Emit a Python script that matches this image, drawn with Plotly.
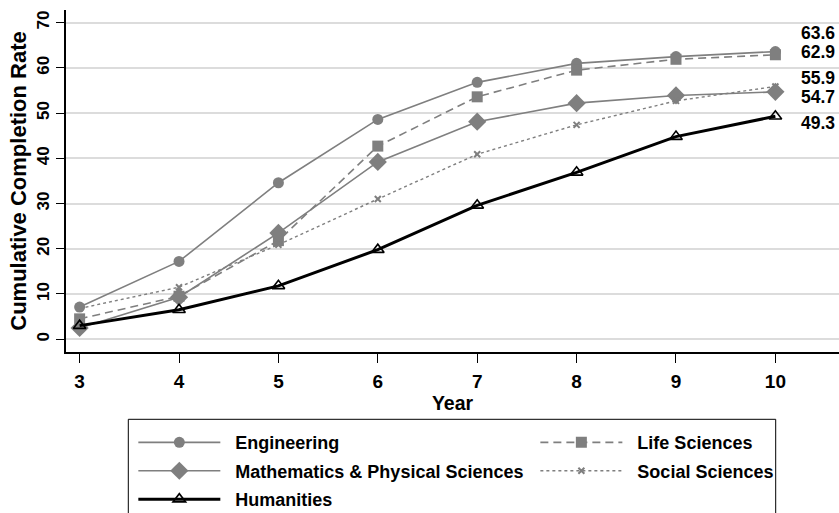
import plotly.graph_objects as go

# Cumulative completion rate (%) by years since entry, by field of study
years = [3, 4, 5, 6, 7, 8, 9, 10]
engineering = [7.1, 17.2, 34.6, 48.6, 56.8, 61.0, 62.5, 63.6]
life_sciences = [4.5, 9.5, 21.8, 42.7, 53.6, 59.5, 61.9, 62.9]
math_phys = [2.5, 9.3, 23.5, 39.2, 48.1, 52.2, 53.9, 54.7]
social_sciences = [6.8, 11.5, 20.9, 31.0, 40.9, 47.4, 52.7, 55.9]
humanities = [3.0, 6.5, 11.8, 19.8, 29.6, 36.9, 44.8, 49.3]

# vertical placement of the end-of-line value labels (spread apart to stay legible)
label_y = [67.7, 63.6, 57.7, 53.6, 47.9]

GRAY = "#7f7f7f"
FONT = "Liberation Sans, Arial, sans-serif"
PAD = "\u00a0\u00a0"

# name, values, line style, marker style, legend column
series = [
    ("Engineering", engineering, dict(color=GRAY, width=1.6, dash="solid"),
     dict(symbol="circle", size=11, color=GRAY), "legend"),
    ("Life Sciences", life_sciences, dict(color=GRAY, width=1.6, dash="8px,5px"),
     dict(symbol="square", size=11, color=GRAY), "legend2"),
    ("Mathematics & Physical Sciences", math_phys, dict(color=GRAY, width=1.6, dash="solid"),
     dict(symbol="diamond", size=14, color=GRAY), "legend"),
    ("Social Sciences", social_sciences, dict(color=GRAY, width=1.4, dash="dot"),
     dict(symbol="x-thin", size=6, color=GRAY, line=dict(color=GRAY, width=2)), "legend2"),
    ("Humanities", humanities, dict(color="black", width=3, dash="solid"),
     dict(symbol="triangle-up-open", size=11, color="black", line=dict(width=1.6)), "legend"),
]

fig = go.Figure()
for name, vals, line, marker, leg in series:
    fig.add_trace(go.Scatter(x=years, y=vals, name=f"<b>{PAD}{name}</b>", mode="lines+markers",
                             line=line, marker=marker, legend=leg, legendgroup=name))

# value labels at the right edge, ordered from highest to lowest end value
ends = sorted([s[1][-1] for s in series], reverse=True)
for v, ly in zip(ends, label_y):
    fig.add_annotation(x=1, xref="paper", xanchor="right", xshift=-2,
                       y=ly, yref="y", yanchor="middle",
                       text=f"<b>{v:.1f}</b>", showarrow=False,
                       font=dict(family=FONT, size=17.5, color="black"))

legend_common = dict(
    orientation="v", yanchor="top", xanchor="left", xref="paper", yref="paper",
    itemwidth=82, borderwidth=0, bgcolor="rgba(0,0,0,0)", tracegroupgap=2,
    font=dict(family=FONT, size=18, color="black"), traceorder="grouped",
)

fig.update_layout(
    width=839, height=513,
    margin=dict(l=66, r=0, t=10, b=161, autoexpand=False),
    paper_bgcolor="white", plot_bgcolor="white",
    font=dict(family=FONT, size=18, color="black"),
    showlegend=True,
    legend=dict(x=0.0871, y=-0.2110, **legend_common),
    legend2=dict(x=0.6072, y=-0.2110, **legend_common),
    # frame around both legend columns
    shapes=[dict(type="rect", xref="paper", yref="paper",
                 x0=0.0806, x1=0.9181, y0=-0.6, y1=-0.1968,
                 line=dict(color="black", width=1), fillcolor="rgba(0,0,0,0)")],
)

fig.update_xaxes(
    range=[2.863, 10.64], tickmode="array", tickvals=years,
    ticktext=[f"<b>{y}</b>" for y in years], tickfont=dict(size=19),
    ticks="outside", ticklen=9, tickcolor="black", tickwidth=1, ticklabelstandoff=2,
    showline=True, linecolor="black", linewidth=1.5, mirror=False,
    showgrid=False, zeroline=False,
    title=dict(text="<b>Year</b>", standoff=0, font=dict(size=19.5)),
)
fig.update_yaxes(
    range=[-2.83, 72.8], tickmode="array", tickvals=[0, 10, 20, 30, 40, 50, 60, 70],
    ticktext=[f"<b>{t}</b>" for t in [0, 10, 20, 30, 40, 50, 60, 70]],
    tickfont=dict(size=17), tickangle=-90,
    ticks="outside", ticklen=8, tickcolor="black", tickwidth=1,
    showline=True, linecolor="black", linewidth=1.5, mirror=False,
    showgrid=True, gridcolor="#dcdcdc", gridwidth=1.5, zeroline=False,
    title=dict(text="<b>Cumulative Completion Rate</b>", standoff=2, font=dict(size=22)),
)

fig.write_html("out.html")
